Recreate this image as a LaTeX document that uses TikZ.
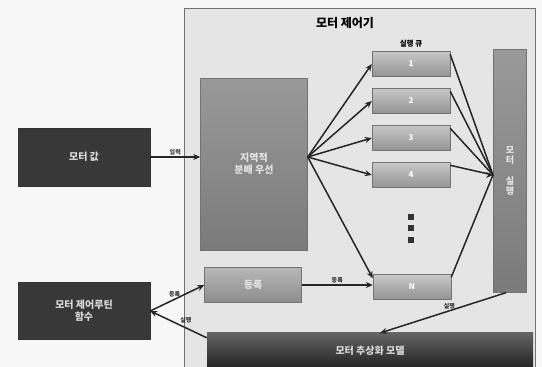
\documentclass[tikz,border=0pt]{standalone}
\usepackage{fontspec}
\newfontfamily\kr{Noto Sans CJK KR}
\usetikzlibrary{arrows.meta}
\begin{document}
\begin{tikzpicture}[x=1pt,y=-1pt,
  font=\kr,
  darkbox/.style={draw=black!80,fill=black!78,text=white!85!black,font=\kr\bfseries\fontsize{10}{12}\selectfont,align=center,inner sep=0pt},
  greybox/.style={draw=black!55,top color=black!28,bottom color=black!45,text=white!90!black,font=\kr\bfseries\fontsize{10}{12}\selectfont,align=center,inner sep=0pt},
  qbox/.style={draw=black!55,top color=black!22,bottom color=black!42,text=white,font=\kr\bfseries\fontsize{8}{9}\selectfont,minimum width=78pt,minimum height=25pt,inner sep=0pt},
  conn/.style={draw=black!85,line width=1.5pt,-{Stealth[length=7pt,width=6pt]}},
  lbl/.style={font=\kr\bfseries\fontsize{6}{7}\selectfont,text=black!80,inner sep=1pt}]
\useasboundingbox (0,0) rectangle (542,367);
\fill[white!97!black] (0,0) rectangle (542,367);
% controller frame
\draw[draw=black!55,fill=black!10,line width=0.8pt] (184,8) rectangle (535,372);
\node (title) at (345,23) {\bfseries\fontsize{12}{14}\selectfont 모터 제어기};
\node[font=\kr\bfseries\fontsize{7.5}{8}\selectfont] (qt) at (411,44) {실행 큐};
% queue
\node[qbox] (q1) at (411,64) {1};
\node[qbox] (q2) at (411,101) {2};
\node[qbox] (q3) at (411,138) {3};
\node[qbox] (q4) at (411,175) {4};
\node[qbox] (qn) at (412,287) {N};
\foreach \yy in {217,228,240} \fill[black!80] (408,\yy-3) rectangle (414,\yy+3);
% big box
\node[greybox,minimum width=107pt,minimum height=172pt,top color=black!40,bottom color=black!52] (sched) at (254,164) {지역적\\분배 우선};
% right bar
\node[greybox,minimum width=33pt,minimum height=243pt,top color=black!40,bottom color=black!52,font=\kr\bfseries\fontsize{9}{10.5}\selectfont] (run) at (510,171) {모\\터\\[10pt]실\\행};
\coordinate (hub) at (493,175);
% left boxes
\node[darkbox,minimum width=132pt,minimum height=58pt] (mv) at (84,157) {모터 값};
\node[darkbox,minimum width=132pt,minimum height=57pt] (fn) at (84,311) {모터 제어루틴\\함수};
\node[greybox,minimum width=97pt,minimum height=35pt] (reg) at (253,285) {등록};
\node[darkbox,minimum width=326pt,minimum height=38pt,draw=none,top color=black!60,bottom color=black!88] (model) at (370,351) {모터 추상화 모델};
% connectors
\draw[conn] (mv.east) -- node[lbl,above] {입력} (sched.west |- mv.east);
\coordinate (sc) at (sched.east |- 0,157);
\draw[conn] (sc) -- (q1.west);
\draw[conn] (sc) -- (q2.west);
\draw[conn] (sc) -- (q3.west);
\draw[conn] (sc) -- (q4.west);
\draw[conn] (sc) -- ([yshift=-4pt]qn.north west);
\draw[conn] (reg.east) -- node[lbl,above] {등록} (qn.west |- reg.east);
\draw[conn] (fn.east) -- node[lbl,above,pos=0.45] {등록} (reg.west);
\draw[conn] ([yshift=-6pt]model.north west) -- node[lbl,above right,pos=0.5] {실행} (fn.east);
\foreach \q in {q1,q2,q3,q4} \draw[draw=black!85,line width=1.5pt] ([yshift=-3pt]\q.north east) -- (hub);
\draw[draw=black!85,line width=1.5pt] ([yshift=-3pt]qn.north east) -- (hub);
\draw[conn] (hub) ++(-4pt,0) -- (hub);
\draw[conn] ([xshift=-4pt]run.south) -- node[lbl,above,pos=0.45] {실행} (380,333);
\end{tikzpicture}
\end{document}
